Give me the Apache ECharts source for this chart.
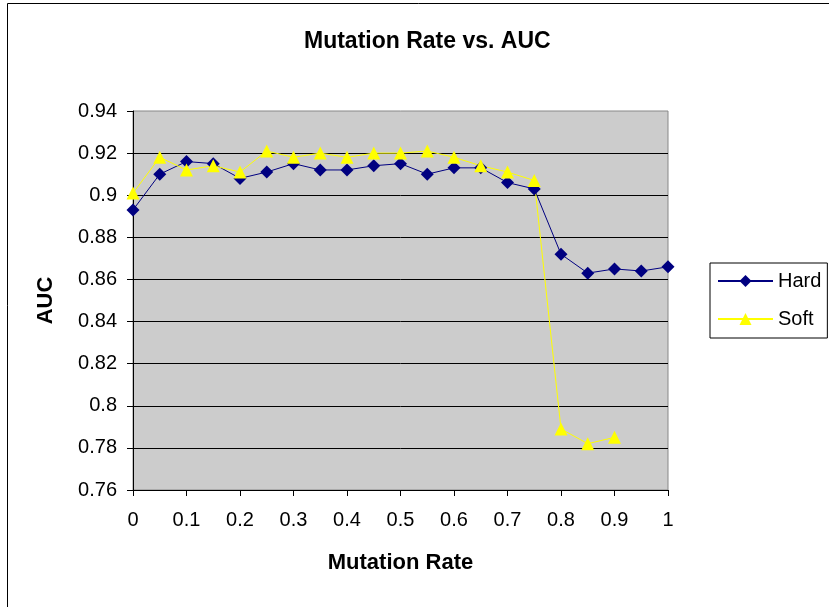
<!DOCTYPE html>
<html>
<head>
<meta charset="utf-8">
<script src="https://cdn.jsdelivr.net/npm/echarts@6/dist/echarts.min.js"></script>
<style>html,body{margin:0;padding:0;background:#fff;}#c{width:829px;height:607px;}</style>
</head>
<body>
<div id="c"></div>
<script>
var xValues = [0, 0.05, 0.1, 0.15, 0.2, 0.25, 0.3, 0.35, 0.4, 0.45, 0.5, 0.55, 0.6, 0.65, 0.7, 0.75, 0.8, 0.85, 0.9, 0.95, 1.0];
var hardValues = [0.893, 0.910, 0.916, 0.915, 0.908, 0.911, 0.915, 0.912, 0.912, 0.914, 0.915, 0.910, 0.913, 0.913, 0.906, 0.903, 0.872, 0.863, 0.865, 0.864, 0.866];
var softValues = [0.901, 0.918, 0.912, 0.914, 0.911, 0.921, 0.918, 0.920, 0.918, 0.920, 0.920, 0.921, 0.918, 0.914, 0.911, 0.907, 0.789, 0.782, 0.785];
var seriesNames = ['Hard', 'Soft'];
var titleText = 'Mutation Rate vs. AUC';
var xAxisName = 'Mutation Rate';
var yAxisName = 'AUC';

function pairs(vals) {
  return vals.map(function (v, i) { return [xValues[i], v]; });
}
var FONT = '"Liberation Sans", Arial, sans-serif';
var chart = echarts.init(document.getElementById('c'), null, { renderer: 'canvas' });
chart.setOption({
  animation: false,
  backgroundColor: '#fff',
  graphic: [{
    type: 'rect', left: 5, top: 1, silent: true,
    shape: { width: 900, height: 700 },
    style: { fill: 'none', stroke: '#000', lineWidth: 1 }
  }],
  title: {
    text: titleText, left: 299, top: 25,
    textStyle: { fontFamily: FONT, fontSize: 23, fontWeight: 'bold', color: '#000' }
  },
  legend: {
    orient: 'vertical', left: 710, top: 263,
    data: seriesNames,
    borderColor: '#000', borderWidth: 1, padding: [8, 6, 9, 7],
    itemWidth: 55, itemHeight: 15, itemGap: 18,
    textStyle: { fontFamily: FONT, fontSize: 20, color: '#000' }
  },
  grid: {
    left: 133, right: 161, top: 111, bottom: 117,
    show: true, backgroundColor: '#CCCCCC', borderColor: '#888', borderWidth: 1
  },
  xAxis: {
    type: 'value', min: 0, max: 1, interval: 0.1,
    name: xAxisName, nameLocation: 'middle', nameGap: 62,
    nameTextStyle: { fontFamily: FONT, fontSize: 22, fontWeight: 'bold', color: '#000' },
    axisLine: { show: true, lineStyle: { color: '#000', width: 1 } },
    axisTick: { show: true, inside: false, length: 6, lineStyle: { color: '#000' } },
    axisLabel: { fontFamily: FONT, fontSize: 20, color: '#000', margin: 20,
      formatter: function (v) { return String(+v.toFixed(1)); } },
    splitLine: { show: false }
  },
  yAxis: {
    type: 'value', min: 0.76, max: 0.94, interval: 0.02,
    name: yAxisName, nameLocation: 'middle', nameGap: 76,
    nameTextStyle: { fontFamily: FONT, fontSize: 22, fontWeight: 'bold', color: '#000' },
    axisLine: { show: true, lineStyle: { color: '#000', width: 1 } },
    axisTick: { show: true, inside: false, length: 6, lineStyle: { color: '#000' } },
    axisLabel: { fontFamily: FONT, fontSize: 20, color: '#000', margin: 16,
      formatter: function (v) { return String(+v.toFixed(2)); } },
    splitLine: { show: true, showMaxLine: false, lineStyle: { color: '#000', width: 1 } }
  },
  series: [{
    name: seriesNames[0], type: 'line', data: pairs(hardValues),
    symbol: 'diamond', symbolSize: 13,
    lineStyle: { color: '#000080', width: 1 },
    itemStyle: { color: '#000080' }
  }, {
    name: seriesNames[1], type: 'line', data: pairs(softValues),
    symbol: 'triangle', symbolSize: 13,
    lineStyle: { color: '#FFFF00', width: 1 },
    itemStyle: { color: '#FFFF00' }
  }]
});
</script>
</body>
</html>
